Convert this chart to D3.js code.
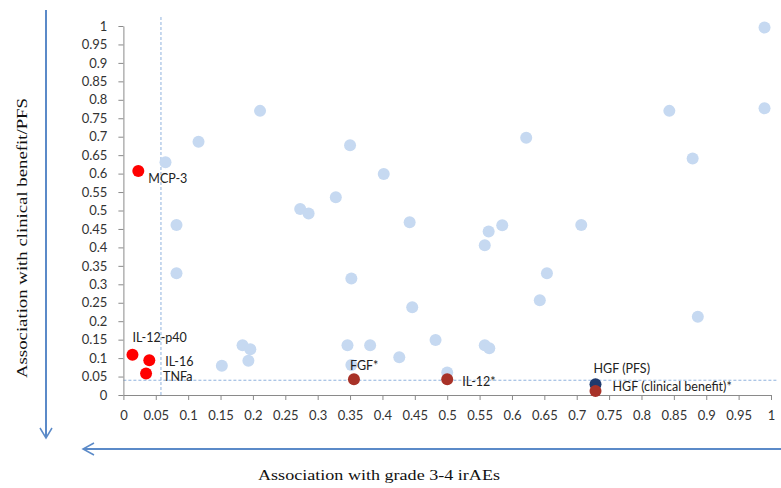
<!DOCTYPE html>
<html>
<head>
<meta charset="utf-8">
<script src="https://cdn.jsdelivr.net/npm/d3@7"></script>
<style>
  html, body { margin: 0; padding: 0; background: #fff; }
  svg { display: block; }
</style>
</head>
<body>
<svg id="chart" width="781" height="488"></svg>
<script>
// ---- data ----
const tickValues = [0, 0.05, 0.1, 0.15, 0.2, 0.25, 0.3, 0.35, 0.4, 0.45, 0.5, 0.55, 0.6, 0.65, 0.7, 0.75, 0.8, 0.85, 0.9, 0.95, 1];
const tickLabels = ["0", "0.05", "0.1", "0.15", "0.2", "0.25", "0.3", "0.35", "0.4", "0.45", "0.5", "0.55", "0.6", "0.65", "0.7", "0.75", "0.8", "0.85", "0.9", "0.95", "1"];

// other (non-significant) markers: association with grade 3-4 irAEs (x), association with clinical benefit/PFS (y)
const otherX = [0.065, 0.116, 0.211, 0.082, 0.082, 0.152, 0.184, 0.196, 0.193, 0.350, 0.402, 0.328, 0.622, 0.273, 0.286, 0.442, 0.564, 0.585, 0.558, 0.352, 0.446, 0.346, 0.381, 0.482, 0.426, 0.558, 0.565, 0.500, 0.352, 0.990, 0.843, 0.990, 0.879, 0.707, 0.654, 0.643, 0.887];
const otherY = [0.631, 0.686, 0.770, 0.461, 0.330, 0.079, 0.135, 0.124, 0.093, 0.677, 0.599, 0.536, 0.697, 0.504, 0.492, 0.468, 0.443, 0.460, 0.406, 0.316, 0.238, 0.135, 0.135, 0.149, 0.102, 0.135, 0.127, 0.061, 0.081, 0.996, 0.770, 0.777, 0.641, 0.461, 0.330, 0.257, 0.212];

// labelled markers
const markerNames = ["MCP-3", "IL-12-p40", "IL-16", "TNFa", "FGF*", "IL-12*", "HGF (PFS)", "HGF (clinical benefit)*"];
const markerX = [0.023, 0.014, 0.040, 0.035, 0.356, 0.500, 0.729, 0.729];
const markerY = [0.607, 0.109, 0.094, 0.058, 0.043, 0.043, 0.029, 0.011];
const markerGroup = ["irAE", "irAE", "irAE", "irAE", "outcome", "outcome", "pfs", "outcome"];

// reference (threshold) lines
const thresholdX = 0.058;
const thresholdY = 0.04;

const xTitle = "Association with grade 3-4 irAEs";
const yTitle = "Association with clinical benefit/PFS";

// ---- layout & style ----
const colors = { other: "#c6d9f1", irAE: "#ff0000", outcome: "#a83228", pfs: "#1f3a6e" };
const labelOffset = {
  "MCP-3": [10, 8], "IL-12-p40": [0, -17], "IL-16": [16, 1], "TNFa": [17, 3],
  "FGF*": [-4, -14], "IL-12*": [15, 2], "HGF (PFS)": [-2, -16], "HGF (clinical benefit)*": [17, -4]
};
const arrowColor = "#5b8ac8";
const tickFont = "Lato, 'Open Sans', sans-serif";
const titleFont = "'Liberation Serif', 'DejaVu Serif', serif";

const svg = d3.select("#chart");
const x = d3.scaleLinear().domain([0, 1]).range([123.4, 771]);
const y = d3.scaleLinear().domain([0, 1]).range([395, 26]);

// dashed threshold lines
svg.append("line")
  .attr("x1", x(thresholdX)).attr("x2", x(thresholdX))
  .attr("y1", 17).attr("y2", y(0))
  .attr("stroke", "#8fb2de").attr("stroke-width", 1).attr("stroke-dasharray", "3,2");
svg.append("line")
  .attr("x1", x(0)).attr("x2", 778)
  .attr("y1", y(thresholdY)).attr("y2", y(thresholdY))
  .attr("stroke", "#8fb2de").attr("stroke-width", 1).attr("stroke-dasharray", "3,2");

// axes
const fmt = d => tickLabels[tickValues.indexOf(d)];
const xAxis = svg.append("g").attr("transform", `translate(0,${y(0)})`)
  .call(d3.axisBottom(x).tickValues(tickValues).tickFormat(fmt).tickSize(5).tickSizeOuter(0).tickPadding(11));
const yAxis = svg.append("g").attr("transform", `translate(${x(0)},0)`)
  .call(d3.axisLeft(y).tickValues(tickValues).tickFormat(fmt).tickSize(5).tickSizeOuter(0).tickPadding(11));
[xAxis, yAxis].forEach(g => {
  g.select(".domain").attr("stroke", "#8a8a8a").attr("stroke-width", 1);
  g.selectAll(".tick line").attr("stroke", "#8a8a8a");
  g.selectAll(".tick text").attr("fill", "#333").style("font-family", tickFont).style("font-size", "13px");
});

// other points
const otherPts = otherX.map((v, i) => ({ x: v, y: otherY[i] }));
svg.append("g").selectAll("circle").data(otherPts).join("circle")
  .attr("cx", d => x(d.x)).attr("cy", d => y(d.y)).attr("r", 6)
  .attr("fill", colors.other);

// labelled points
const marks = markerNames.map((n, i) => ({ name: n, x: markerX[i], y: markerY[i], g: markerGroup[i] }));
svg.append("g").selectAll("circle").data(marks).join("circle")
  .attr("cx", d => x(d.x)).attr("cy", d => y(d.y)).attr("r", 6)
  .attr("fill", d => colors[d.g]);
svg.append("g").selectAll("text").data(marks).join("text")
  .attr("x", d => x(d.x) + labelOffset[d.name][0])
  .attr("y", d => y(d.y) + labelOffset[d.name][1])
  .attr("dy", "0.35em")
  .attr("fill", "#222")
  .style("font-family", tickFont).style("font-size", "12.5px")
  .text(d => d.name);

// arrows
svg.append("line").attr("x1", 46).attr("x2", 46).attr("y1", 10).attr("y2", 437)
  .attr("stroke", arrowColor).attr("stroke-width", 2);
svg.append("path").attr("d", "M40,428 L46,438 L52,428")
  .attr("fill", "none").attr("stroke", arrowColor).attr("stroke-width", 1.5);
svg.append("line").attr("x1", 84).attr("x2", 781).attr("y1", 449).attr("y2", 449)
  .attr("stroke", arrowColor).attr("stroke-width", 2);
svg.append("path").attr("d", "M94,443 L83,449 L94,455")
  .attr("fill", "none").attr("stroke", arrowColor).attr("stroke-width", 1.5);

// titles
svg.append("text").attr("x", 258).attr("y", 480)
  .attr("textLength", 242).attr("lengthAdjust", "spacingAndGlyphs")
  .attr("fill", "#111").style("font-family", titleFont).style("font-size", "15px")
  .text(xTitle);
svg.append("text")
  .attr("transform", "translate(27,378) rotate(-90)")
  .attr("textLength", 280).attr("lengthAdjust", "spacingAndGlyphs")
  .attr("fill", "#111").style("font-family", titleFont).style("font-size", "15px")
  .text(yTitle);
</script>
</body>
</html>
